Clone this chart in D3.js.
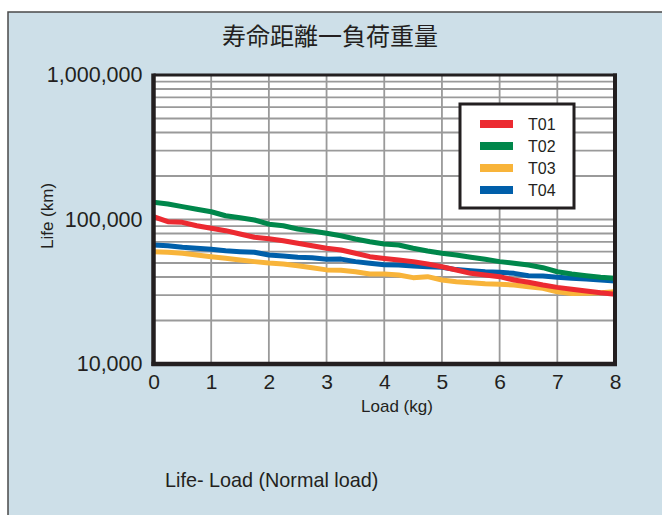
<!DOCTYPE html>
<html>
<head>
<meta charset="utf-8">
<script src="https://cdn.jsdelivr.net/npm/d3@7/dist/d3.min.js"></script>
<style>
  html, body { margin: 0; padding: 0; background: #ffffff; }
  svg { display: block; }
  text { font-family: "Liberation Sans", Arial, sans-serif; fill: #231f20; }
</style>
</head>
<body>
<svg id="chart" width="662" height="515"></svg>
<script>
// Load (kg) sample points
const loads = [0, 0.25, 0.5, 0.75, 1, 1.25, 1.5, 1.75, 2, 2.25, 2.5, 2.75, 3, 3.25, 3.5, 3.75,
               4, 4.25, 4.5, 4.75, 5, 5.25, 5.5, 5.75, 6, 6.25, 6.5, 6.75, 7, 7.25, 7.5, 7.75, 8];

// Life (km) per model
const t01 = [104600, 96600, 95600, 90600, 86900, 83700, 79400, 75300, 73500, 71300, 68400, 65900,
             63200, 61500, 58400, 55300, 53700, 52400, 51100, 49200, 47100, 44700, 42400, 41300,
             40200, 38100, 36800, 35200, 33900, 32900, 32000, 31100, 30400];
const t02 = [131500, 128000, 122700, 117700, 113200, 106200, 102900, 99200, 92800, 90600, 86000, 83200,
             80300, 77200, 73300, 70200, 67700, 66600, 63200, 60500, 58400, 56800, 54800, 53000,
             51100, 49800, 48400, 46400, 43500, 42000, 40800, 39800, 39200];
const t03 = [59900, 59300, 58400, 56800, 55300, 53900, 52400, 51100, 50000, 49200, 47900, 46400,
             44800, 44500, 43500, 42000, 42000, 41300, 39600, 40200, 38100, 37100, 36500, 35900,
             35600, 35200, 34300, 33400, 31600, 30700, 30900, 31100, 31600];
const t04 = [66600, 65900, 64200, 63200, 62200, 60800, 59900, 59300, 56800, 55900, 54800, 54400,
             53000, 53200, 51100, 49800, 48700, 48400, 47700, 47100, 46700, 45000, 44200, 43500,
             43100, 42400, 40800, 40700, 39800, 39200, 38700, 38100, 37500];

const seriesNames = ["T01", "T02", "T03", "T04"];
const xTicks = [0, 1, 2, 3, 4, 5, 6, 7, 8];
const yTicks = [10000, 100000, 1000000];

const titleText = "寿命距離一負荷重量";
const xLabel = "Load (kg)";
const yLabel = "Life (km)";
const caption = "Life- Load (Normal load)";

const colors = { T01: "#ec2a31", T02: "#00874b", T03: "#f8b43a", T04: "#005faa" };
const seriesData = { T01: t01, T02: t02, T03: t03, T04: t04 };

const svg = d3.select("#chart");

// panel background
svg.append("rect")
  .attr("x", 8).attr("y", 12)
  .attr("width", 680).attr("height", 530)
  .attr("fill", "#cddfe8")
  .attr("stroke", "#4a4a4a").attr("stroke-width", 1.5);

const plotL = 153.5, plotR = 615, plotT = 75, plotB = 364;

const x = d3.scaleLinear().domain([0, 8]).range([plotL, plotR]);
const y = d3.scaleLog().domain([10000, 1000000]).range([plotB, plotT]);

// plot area
svg.append("rect")
  .attr("x", plotL).attr("y", plotT)
  .attr("width", plotR - plotL).attr("height", plotB - plotT)
  .attr("fill", "#ffffff");

// grid
const grid = svg.append("g").attr("stroke", "#9a9a9a").attr("stroke-width", 1.8);
grid.selectAll("line.v")
  .data(xTicks.slice(1, -1))
  .join("line")
  .attr("class", "v")
  .attr("x1", d => x(d)).attr("x2", d => x(d))
  .attr("y1", plotT).attr("y2", plotB);
grid.selectAll("line.h")
  .data(y.ticks().filter(d => d > 10000 && d < 1000000))
  .join("line")
  .attr("class", "h")
  .attr("x1", plotL).attr("x2", plotR)
  .attr("y1", d => y(d)).attr("y2", d => y(d));

// series lines
const line = d3.line()
  .x((d, i) => x(loads[i]))
  .y(d => y(d));

svg.append("clipPath").attr("id", "plotClip")
  .append("rect")
  .attr("x", plotL).attr("y", plotT)
  .attr("width", plotR - plotL).attr("height", plotB - plotT);

const lines = svg.append("g").attr("clip-path", "url(#plotClip)");
["T03", "T04", "T02", "T01"].forEach(name => {
  lines.append("path")
    .datum(seriesData[name])
    .attr("d", line)
    .attr("fill", "none")
    .attr("stroke", colors[name])
    .attr("stroke-width", 5)
    .attr("stroke-linejoin", "round");
});

// frame
const frame = svg.append("g").attr("stroke", "#231f20").attr("fill", "none");
frame.append("line").attr("x1", plotL).attr("x2", plotR + 2).attr("y1", plotT).attr("y2", plotT).attr("stroke-width", 3);
frame.append("line").attr("x1", plotR).attr("x2", plotR).attr("y1", plotT - 1.5).attr("y2", plotB + 2).attr("stroke-width", 4);
frame.append("line").attr("x1", plotL).attr("x2", plotL).attr("y1", plotT - 1.5).attr("y2", plotB + 2).attr("stroke-width", 4.5);
frame.append("line").attr("x1", plotL - 2).attr("x2", plotR + 2).attr("y1", plotB).attr("y2", plotB).attr("stroke-width", 4.5);

// axes (labels only; the frame draws the axis lines)
const yAxis = svg.append("g")
  .attr("transform", `translate(${plotL},0)`)
  .call(d3.axisLeft(y).tickValues(yTicks).tickFormat(d3.format(",")).tickSize(0).tickPadding(11));
yAxis.select(".domain").remove();
yAxis.selectAll("text")
  .attr("font-size", 21.5)
  .attr("font-family", "'Liberation Sans', Arial, sans-serif")
  .attr("fill", "#231f20");

const xAxis = svg.append("g")
  .attr("transform", `translate(0,${plotB})`)
  .call(d3.axisBottom(x).tickValues(xTicks).tickFormat(d3.format("d")).tickSize(0).tickPadding(10));
xAxis.select(".domain").remove();
xAxis.selectAll("text")
  .attr("font-size", 21)
  .attr("font-family", "'Liberation Sans', Arial, sans-serif")
  .attr("fill", "#231f20");

// titles
svg.append("text")
  .attr("x", 330).attr("y", 45)
  .attr("text-anchor", "middle")
  .attr("font-size", 24)
  .style("font-family", "'Noto Sans CJK JP', 'Noto Sans CJK SC', sans-serif")
  .attr("fill", "#333")
  .text(titleText);

svg.append("text")
  .attr("x", 397).attr("y", 412)
  .attr("text-anchor", "middle")
  .attr("font-size", 17)
  .text(xLabel);

svg.append("text")
  .attr("transform", "translate(53,216) rotate(-90)")
  .attr("text-anchor", "middle")
  .attr("font-size", 17)
  .text(yLabel);

svg.append("text")
  .attr("x", 165).attr("y", 487)
  .attr("font-size", 19.8)
  .text(caption);

// legend
const legend = svg.append("g");
legend.append("rect")
  .attr("x", 460).attr("y", 104)
  .attr("width", 114).attr("height", 104)
  .attr("fill", "#ffffff")
  .attr("stroke", "#231f20").attr("stroke-width", 3);
const rows = legend.selectAll("g.row")
  .data(seriesNames)
  .join("g")
  .attr("class", "row")
  .attr("transform", (d, i) => `translate(0,${124 + i * 22})`);
rows.append("rect")
  .attr("x", 480).attr("y", -4)
  .attr("width", 33).attr("height", 8)
  .attr("fill", d => colors[d]);
rows.append("text")
  .attr("x", 528).attr("y", 6)
  .attr("font-size", 16)
  .text(d => d);
</script>
</body>
</html>
